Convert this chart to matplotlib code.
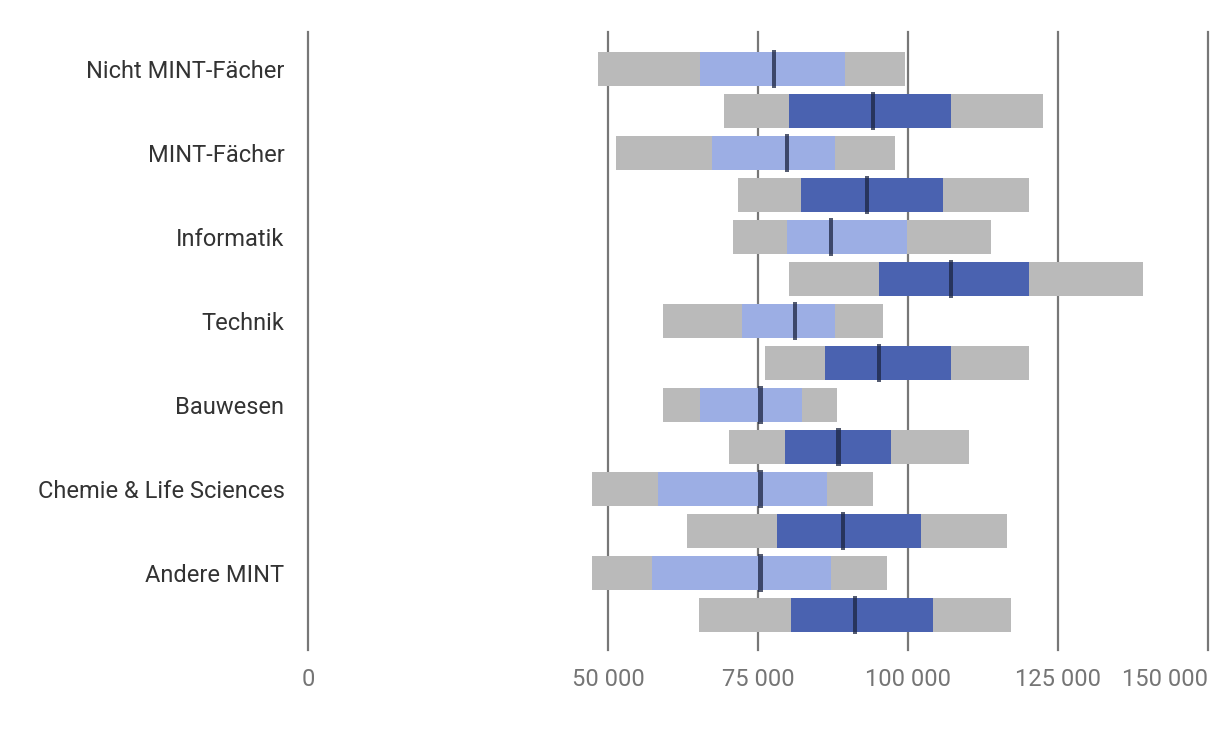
import matplotlib.pyplot as plt

# Gehaltsspannen je Fachrichtung (zwei Gruppen pro Kategorie)
categories = ["Nicht MINT-Fächer", "MINT-Fächer", "Informatik", "Technik",
              "Bauwesen", "Chemie & Life Sciences", "Andere MINT"]

# obere Zeile (hellblau)
light_min = [48400, 51400, 70800, 59100, 59100, 47300, 47300]
light_q1 = [65400, 67400, 79800, 72400, 65400, 58400, 57400]
light_med = [77700, 79800, 87100, 81100, 75400, 75400, 75400]
light_q3 = [89500, 87800, 99900, 87800, 82400, 86500, 87100]
light_max = [99500, 97800, 113800, 95800, 88100, 94100, 96500]

# untere Zeile (dunkelblau)
dark_min = [69400, 71700, 80100, 76100, 70100, 63100, 65100]
dark_q1 = [80100, 82100, 95200, 86100, 79500, 78100, 80500]
dark_med = [94100, 93100, 107100, 95100, 88400, 89100, 91100]
dark_q3 = [107100, 105800, 120200, 107100, 97100, 102100, 104200]
dark_max = [122500, 120200, 139200, 120200, 110200, 116500, 117200]

xticks = [0, 50000, 75000, 100000, 125000, 150000]
xtick_labels = ["0", "50 000", "75 000", "100 000", "125 000", "150 000"]

plt.rcParams['font.family'] = ['Roboto', 'DejaVu Sans']

fig = plt.figure(figsize=(12.2, 7.32), dpi=100)
ax = fig.add_axes([308 / 1220, 1 - 650 / 732, 900 / 1220, 618 / 732])

gray = '#bababa'
light = '#9caee4'
dark = '#4a62b0'
med_col = '#1c2541'
bar_h = 0.8
med_w = 700

groups = [
    (light_min, light_q1, light_med, light_q3, light_max, light, 0),
    (dark_min, dark_q1, dark_med, dark_q3, dark_max, dark, 1),
]
for mins, q1s, meds, q3s, maxs, col, off in groups:
    ys = [2 * i + off for i in range(len(categories))]
    ax.barh(ys, [b - a for a, b in zip(mins, maxs)], left=mins,
            height=bar_h, color=gray, zorder=2)
    ax.barh(ys, [b - a for a, b in zip(q1s, q3s)], left=q1s,
            height=bar_h, color=col, zorder=3)
    ax.barh(ys, med_w, left=[m - med_w / 2 for m in meds],
            height=0.9, color=med_col, alpha=0.75, zorder=4)

ax.set_xlim(0, 150000)
ax.set_ylim(13.83, -0.88)

ax.set_xticks(xticks)
ax.set_xticklabels(xtick_labels)
ax.set_yticks([2 * i for i in range(len(categories))])
ax.set_yticklabels(categories)

ax.tick_params(axis='x', length=0, pad=13, labelsize=17, labelcolor='#757575')
ax.tick_params(axis='y', length=0, pad=17, labelsize=17, labelcolor='#333333')
# letzte Beschriftung rechtsbündig an der Linie
ax.get_xticklabels()[-1].set_horizontalalignment('right')

ax.grid(axis='x', color='#777777', linewidth=1.6, zorder=1)
ax.grid(axis='y', visible=False)
ax.set_axisbelow(True)
for line in ax.get_xgridlines():
    line.set_clip_on(False)

for s in ax.spines.values():
    s.set_visible(False)

fig.savefig("out.png", dpi=100)
